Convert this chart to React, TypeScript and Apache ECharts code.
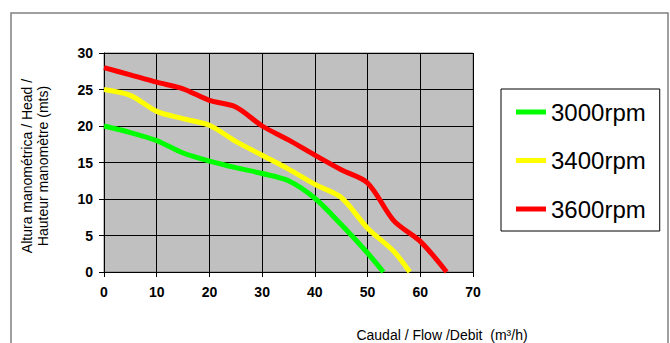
import React, { useEffect, useRef } from "react";
import * as echarts from "echarts";

const seriesNames = ["3000rpm", "3400rpm", "3600rpm"];
const seriesColors = ["#00FF00", "#FFFF00", "#FF0000"];
const flow3000 = [0, 5, 10, 15, 20, 25, 30, 35, 40, 45, 50, 53];
const head3000 = [20, 19.1, 18, 16.3, 15.2, 14.3, 13.5, 12.5, 10.1, 6.5, 2.6, 0];
const flow3400 = [0, 5, 10, 15, 20, 25, 30, 35, 40, 45, 50, 55, 58];
const head3400 = [25, 24.2, 22, 21, 20.1, 17.9, 16, 14.1, 12, 10.2, 6, 2.8, 0];
const flow3600 = [0, 5, 10, 15, 20, 25, 30, 35, 40, 45, 50, 55, 60, 65];
const head3600 = [28, 27, 26, 25.1, 23.5, 22.6, 20, 18.1, 16, 14, 12.2, 7, 4.2, 0];

const yTitle = "Altura manométrica / Head /\nHauteur manomètre (mts)";
const xTitle = "Caudal / Flow /Debit  (m³/h)";

const FONT = "'Liberation Sans', Arial, sans-serif";

export default function App() {
  const ref = useRef<HTMLDivElement>(null);
  useEffect(() => {
    if (!ref.current) return;
    const chart = echarts.init(ref.current, null, { renderer: "svg" });
    const flows = [flow3000, flow3400, flow3600];
    const heads = [head3000, head3400, head3600];
    chart.setOption({
      animation: false,
      backgroundColor: "#FFFFFF",
      textStyle: { fontFamily: FONT },
      grid: {
        left: 104,
        top: 53,
        right: 197,
        bottom: 71,
        show: true,
        backgroundColor: "#C0C0C0",
        borderColor: "#808080",
        borderWidth: 1,
      },
      xAxis: {
        type: "value",
        min: 0,
        max: 70,
        interval: 10,
        axisLine: { show: true, lineStyle: { color: "#000", width: 1 } },
        axisTick: { show: true, length: 5, lineStyle: { color: "#000" } },
        axisLabel: {
          color: "#000",
          fontWeight: "bold",
          fontSize: 14,
          fontFamily: FONT,
          margin: 13,
        },
        splitLine: { show: true, lineStyle: { color: "#000", width: 1 } },
      },
      yAxis: {
        type: "value",
        min: 0,
        max: 30,
        interval: 5,
        axisLine: { show: true, lineStyle: { color: "#000", width: 1 } },
        axisTick: { show: true, length: 5, lineStyle: { color: "#000" } },
        axisLabel: {
          color: "#000",
          fontWeight: "bold",
          fontSize: 14,
          fontFamily: FONT,
          margin: 11,
        },
        splitLine: { show: true, lineStyle: { color: "#000", width: 1 } },
      },
      legend: {
        orient: "vertical",
        left: 501,
        top: 89,
        backgroundColor: "#FFFFFF",
        borderColor: "#000",
        borderWidth: 1,
        borderRadius: 0,
        padding: [11, 14, 10, 15],
        itemWidth: 30,
        itemHeight: 5,
        itemGap: 24.5,
        icon: "rect",
        textStyle: {
          fontSize: 24,
          lineHeight: 24,
          color: "#000",
          fontFamily: FONT,
        },
        data: seriesNames,
      },
      graphic: [
        {
          type: "rect",
          shape: { x: 11, y: 13, width: 657, height: 345 },
          style: { fill: "none", stroke: "#808080", lineWidth: 1.5 },
          silent: true,
          z: -1,
        },
        {
          type: "text",
          x: 35,
          y: 166,
          rotation: Math.PI / 2,
          style: {
            text: yTitle,
            fontSize: 14,
            lineHeight: 16,
            fontFamily: FONT,
            fill: "#000",
            align: "center",
            verticalAlign: "middle",
          },
        },
        {
          type: "text",
          x: 442,
          y: 335,
          style: {
            text: xTitle,
            fontSize: 14,
            fontFamily: FONT,
            fill: "#000",
            align: "center",
            verticalAlign: "middle",
          },
        },
      ],
      series: seriesNames.map((name, i) => ({
        name,
        type: "line",
        smooth: 0.3,
        showSymbol: false,
        symbol: "none",
        color: seriesColors[i],
        lineStyle: { width: 5, color: seriesColors[i] },
        data: flows[i].map((f, j) => [f, heads[i][j]]),
      })),
    });
    return () => chart.dispose();
  }, []);
  return (
    <div
      ref={ref}
      style={{ position: "fixed", left: 0, top: 0, width: 670, height: 343 }}
    />
  );
}
